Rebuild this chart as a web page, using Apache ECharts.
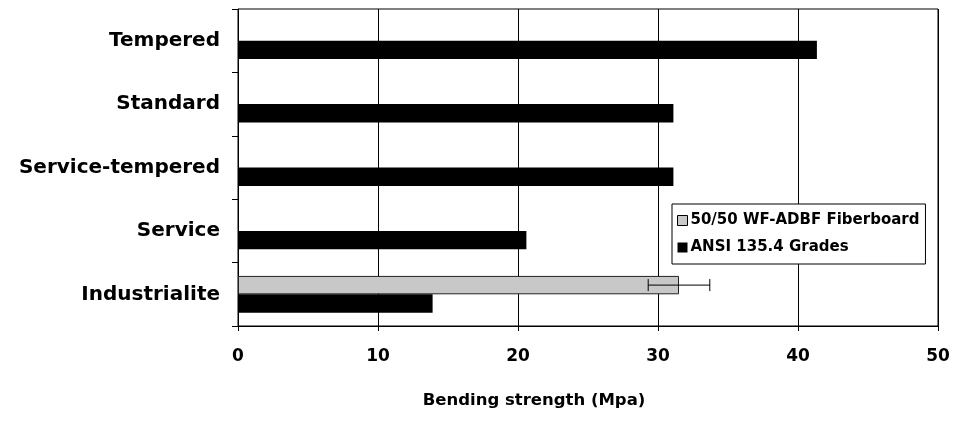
<!DOCTYPE html>
<html><head><meta charset="utf-8">
<script src="https://cdn.jsdelivr.net/npm/echarts@6/dist/echarts.min.js"></script>
<style>html,body{margin:0;padding:0;background:#fff}#c{width:953px;height:423px}</style>
</head><body><div id="c"></div>
<script>
const categories = ['Industrialite','Service','Service-tempered','Standard','Tempered'];
const fiberboard = [31.5, null, null, null, null];
const fiberboardErr = [2.2, null, null, null, null];
const ansi = [13.9, 20.6, 31.1, 31.1, 41.35];
const xTicks = [0, 10, 20, 30, 40, 50];

const WIDE = '"DejaVu Sans", sans-serif';
const chart = echarts.init(document.getElementById('c'));
const errData = fiberboard.map((v, i) => v == null ? null : [i, v - fiberboardErr[i], v + fiberboardErr[i]]).filter(d => d);

chart.setOption({
  animation: false,
  grid: { left: 238, right: 15, top: 9, bottom: 97, show: true, borderColor: '#000', borderWidth: 1 },
  legend: {
    orient: 'vertical', left: 672, top: 204, width: 255,
    backgroundColor: '#fff', borderColor: '#000', borderWidth: 1,
    padding: [9, 6, 9, 5], itemGap: 12, itemWidth: 10, itemHeight: 10,
    textStyle: { fontFamily: WIDE, fontWeight: 'bold', fontSize: 15, color: '#000', padding: [0, 0, 0, -2] },
    data: [
      { name: '50/50 WF-ADBF Fiberboard', icon: 'rect', itemStyle: { color: '#c8c8c8', borderColor: '#000', borderWidth: 1 } },
      { name: 'ANSI 135.4 Grades', icon: 'rect' }
    ]
  },
  xAxis: {
    type: 'value', min: xTicks[0], max: xTicks[xTicks.length - 1], interval: 10,
    name: 'Bending strength (Mpa)', nameLocation: 'middle', nameGap: 66,
    nameTextStyle: { fontFamily: WIDE, fontWeight: 'bold', fontSize: 16.5, color: '#000', padding: [0, 108, 0, 0] },
    axisLine: { show: true, lineStyle: { color: '#000', width: 1 } },
    axisTick: { show: true, length: 5, lineStyle: { color: '#000' } },
    axisLabel: { margin: 22, fontFamily: WIDE, fontWeight: 'bold', fontSize: 17, color: '#000' },
    splitLine: { show: true, lineStyle: { color: '#000', width: 1 } }
  },
  yAxis: {
    type: 'category', data: categories,
    axisLine: { show: true, lineStyle: { color: '#000', width: 1 } },
    axisTick: { show: true, length: 6, lineStyle: { color: '#000' } },
    axisLabel: { margin: 18, fontFamily: WIDE, fontWeight: 'bold', fontSize: 20, color: '#000' },
    splitLine: { show: false }
  },
  series: [
    {
      name: '50/50 WF-ADBF Fiberboard', type: 'bar', data: fiberboard,
      barGap: '0%', barCategoryGap: '42%',
      itemStyle: { color: '#c8c8c8', borderColor: '#222', borderWidth: 1 }
    },
    {
      name: 'ANSI 135.4 Grades', type: 'bar', data: ansi,
      barGap: '0%', barCategoryGap: '42%',
      itemStyle: { color: '#000' }
    },
    {
      type: 'custom', name: 'err', silent: true, z: 10,
      data: errData,
      encode: { x: [1, 2], y: 0 },
      renderItem: function (params, api) {
        const cat = api.value(0);
        const lo = api.coord([api.value(1), cat]);
        const hi = api.coord([api.value(2), cat]);
        const band = api.size([0, 1])[1];
        const y = lo[1] - band * 0.58 / 4;
        const cap = 6;
        const st = { stroke: '#000', lineWidth: 1 };
        return {
          type: 'group', children: [
            { type: 'line', shape: { x1: lo[0], y1: y, x2: hi[0], y2: y }, style: st },
            { type: 'line', shape: { x1: lo[0], y1: y - cap, x2: lo[0], y2: y + cap }, style: st },
            { type: 'line', shape: { x1: hi[0], y1: y - cap, x2: hi[0], y2: y + cap }, style: st }
          ]
        };
      }
    }
  ]
});
</script></body></html>
